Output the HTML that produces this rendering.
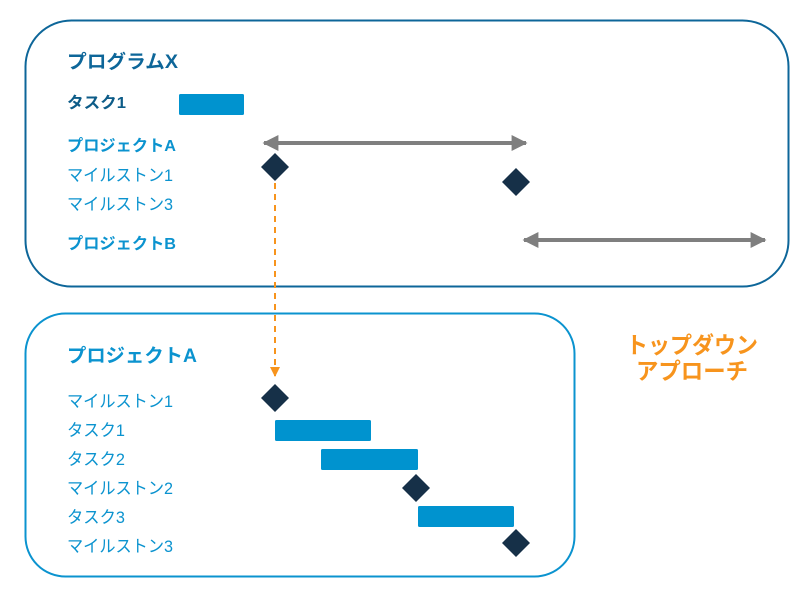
<!DOCTYPE html>
<html><head><meta charset="utf-8"><style>
html,body{margin:0;padding:0;background:#fff;}
svg{display:block;}
text{font-family:"Liberation Sans","Noto Sans CJK JP",sans-serif;}
</style></head><body>
<svg width="812" height="591" viewBox="0 0 812 591" xmlns="http://www.w3.org/2000/svg">
<defs>
<marker id="ga" viewBox="0 0 10 10" refX="9" refY="5" markerWidth="4" markerHeight="4" orient="auto-start-reverse"><path d="M0,0 L10,5 L0,10 z" fill="#7f7f7f"/></marker>
<marker id="oa" viewBox="0 0 10 10" refX="9" refY="5" markerWidth="5" markerHeight="5" orient="auto"><path d="M0,0 L10,5 L0,10 z" fill="#f7941d"/></marker>
</defs>
<rect x="25.5" y="20.5" width="763" height="266" rx="46" fill="none" stroke="#0d6699" stroke-width="2"/>
<rect x="25.5" y="313.5" width="549" height="263" rx="40" fill="none" stroke="#0b93cf" stroke-width="2"/>

<g font-weight="bold">
<text x="67" y="68" font-size="19" fill="#0d6699" textLength="111" lengthAdjust="spacingAndGlyphs">プログラムX</text>
<text x="67" y="108" font-size="16" fill="#0d5c88" textLength="59" lengthAdjust="spacingAndGlyphs">タスク1</text>
<text x="67" y="151" font-size="16" fill="#0b93cf" textLength="109" lengthAdjust="spacingAndGlyphs">プロジェクトA</text>
<text x="67" y="249" font-size="16" fill="#0b93cf" textLength="109" lengthAdjust="spacingAndGlyphs">プロジェクトB</text>
<text x="67" y="362" font-size="19" fill="#0b93cf" textLength="130" lengthAdjust="spacingAndGlyphs">プロジェクトA</text>
</g>
<g font-size="17" fill="#0b93cf">
<text x="67" y="181" textLength="106" lengthAdjust="spacingAndGlyphs">マイルストン1</text>
<text x="67" y="210" textLength="106" lengthAdjust="spacingAndGlyphs">マイルストン3</text>
<text x="67" y="407" textLength="106" lengthAdjust="spacingAndGlyphs">マイルストン1</text>
<text x="67" y="436" textLength="58" lengthAdjust="spacingAndGlyphs">タスク1</text>
<text x="67" y="465" textLength="58" lengthAdjust="spacingAndGlyphs">タスク2</text>
<text x="67" y="494" textLength="106" lengthAdjust="spacingAndGlyphs">マイルストン2</text>
<text x="67" y="523" textLength="58" lengthAdjust="spacingAndGlyphs">タスク3</text>
<text x="67" y="552" textLength="106" lengthAdjust="spacingAndGlyphs">マイルストン3</text>
</g>
<g font-size="23" font-weight="bold" fill="#f7941d">
<text x="626" y="353" textLength="132" lengthAdjust="spacingAndGlyphs">トップダウン</text>
<text x="636" y="379" textLength="112" lengthAdjust="spacingAndGlyphs">アプローチ</text>
</g>

<g fill="#0093cf">
<rect x="179" y="94" width="65" height="21" rx="1.5"/>
<rect x="275" y="420" width="96" height="21" rx="1.5"/>
<rect x="321" y="449" width="97" height="21" rx="1.5"/>
<rect x="418" y="506" width="96" height="21" rx="1.5"/>
</g>

<line x1="264" y1="143" x2="526" y2="143" stroke="#7f7f7f" stroke-width="4" marker-start="url(#ga)" marker-end="url(#ga)"/>
<line x1="524" y1="240" x2="765" y2="240" stroke="#7f7f7f" stroke-width="4" marker-start="url(#ga)" marker-end="url(#ga)"/>

<line x1="275" y1="183" x2="275" y2="376" stroke="#f7941d" stroke-width="2" stroke-dasharray="6,5" marker-end="url(#oa)"/>

<g fill="#163048">
<path d="M275,153 L289,167 L275,181 L261,167 z"/>
<path d="M516,168 L530,182 L516,196 L502,182 z"/>
<path d="M275,384 L289,398 L275,412 L261,398 z"/>
<path d="M416,474 L430,488 L416,502 L402,488 z"/>
<path d="M516,529 L530,543 L516,557 L502,543 z"/>
</g>
</svg>
</body></html>
